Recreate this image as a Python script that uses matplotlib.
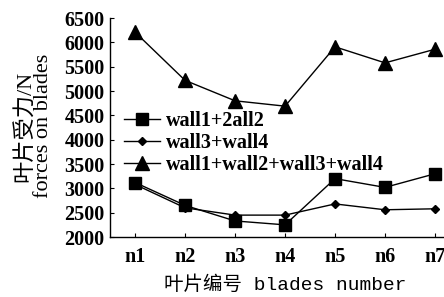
import matplotlib
matplotlib.use("Agg")
import matplotlib.pyplot as plt

blades = ["n1", "n2", "n3", "n4", "n5", "n6", "n7"]
wall12 = [3120, 2650, 2330, 2250, 3200, 3020, 3300]
wall34 = [3080, 2600, 2450, 2450, 2680, 2560, 2580]
wall1234 = [6210, 5220, 4800, 4690, 5910, 5580, 5860]
y_ticks = [2000, 2500, 3000, 3500, 4000, 4500, 5000, 5500, 6000, 6500]

serif = ["Liberation Serif", "Noto Sans CJK SC"]
mono = ["Liberation Mono", "Noto Sans CJK SC"]
fs = 14.5


def main():
    fig = plt.figure(figsize=(4.44, 2.97), dpi=100)
    ax = fig.add_axes([0.248, 0.202, 0.788, 0.737])
    x = list(range(1, len(blades) + 1))

    ax.plot(x, wall12, color="black", lw=1.0, marker="s", ms=8,
            label="wall1+2all2")
    ax.plot(x, wall34, color="black", lw=1.0, marker="D", ms=4,
            label="wall3+wall4")
    ax.plot(x, wall1234, color="black", lw=1.0, marker="^", ms=10,
            label="wall1+wall2+wall3+wall4")

    ax.set_xlim(0.5, 7.5)
    ax.set_ylim(2000, 6500)
    ax.set_xticks(x)
    ax.set_xticklabels(blades, family=serif, fontweight="bold", fontsize=fs)
    ax.set_yticks(y_ticks)
    ax.set_yticklabels([str(v) for v in y_ticks], family=serif,
                       fontweight="bold", fontsize=fs)
    ax.tick_params(direction="in", length=3, width=0.8)
    ax.tick_params(axis="y", pad=4)
    ax.tick_params(axis="x", pad=7)
    for s in ["top", "right"]:
        ax.spines[s].set_visible(False)
    for s in ["left", "bottom"]:
        ax.spines[s].set_linewidth(1.0)

    ax.set_xlabel("叶片编号 blades number", family=mono, fontsize=14,
                  labelpad=6)
    fig.text(0.076, 0.575, "叶片受力/N\nforces on blades", family=serif,
             fontsize=16, rotation=90, ha="center", va="center",
             multialignment="center", linespacing=0.9)

    ax.legend(loc="upper left", bbox_to_anchor=(0.0, 0.64),
              frameon=False, handlelength=1.8, handletextpad=0.25,
              labelspacing=0.1, borderaxespad=0.3,
              prop={"family": serif, "weight": "bold", "size": fs})
    fig.savefig("out.png", dpi=100)


if __name__ == "__main__":
    main()
